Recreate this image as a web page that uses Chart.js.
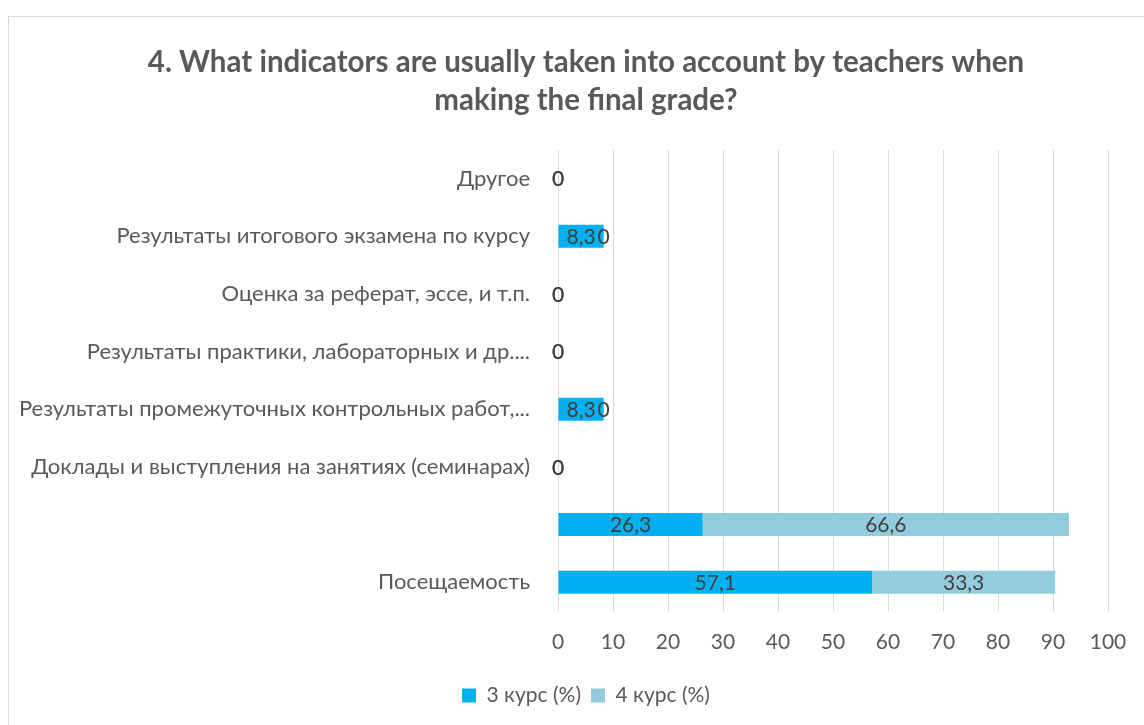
<!DOCTYPE html>
<html lang="ru">
<head>
    <meta charset="UTF-8">
    <title>4. What indicators are usually taken into account by teachers</title>
    <script src="https://cdn.jsdelivr.net/npm/chart.js@4.4.1/dist/chart.umd.min.js"></script>
    <style>
        html, body { margin: 0; padding: 0; background: #fff; overflow: hidden; }
        .frame { position: absolute; left: 8px; top: 16px; width: 1140px; height: 720px; border: 1px solid #d9d9d9; }
        #chart { position: absolute; left: 9px; top: 17px; }
    </style>
</head>
<body>
    <div class="frame"></div>
    <canvas id="chart" width="1154" height="708"></canvas>

    <script>
        // Data (top to bottom as in the picture)
        const categories = [
            'Другое',
            'Результаты итогового экзамена по курсу',
            'Оценка за реферат, эссе, и т.п.',
            'Результаты практики, лабораторных и др....',
            'Результаты промежуточных контрольных работ,...',
            'Доклады и выступления на занятиях (семинарах)',
            '',
            'Посещаемость'
        ];
        const course3 = [0, 8.3, 0, 0, 8.3, 0, 26.3, 57.1];
        const course4 = [0, 0, 0, 0, 0, 0, 66.6, 33.3];
        const xTicks = [0, 10, 20, 30, 40, 50, 60, 70, 80, 90, 100];

        const fontFamily = 'Lato, "Noto Sans", "DejaVu Sans", sans-serif';

        // value labels centred in each bar segment, comma decimal
        const barLabels = {
            id: 'barLabels',
            afterDatasetsDraw(chart) {
                const ctx = chart.ctx;
                ctx.save();
                ctx.font = '21px ' + fontFamily;
                ctx.fillStyle = '#404040';
                ctx.textAlign = 'center';
                ctx.textBaseline = 'middle';
                chart.data.datasets.forEach((ds, i) => {
                    const meta = chart.getDatasetMeta(i);
                    meta.data.forEach((bar, j) => {
                        const txt = String(ds.data[j]).replace('.', ',');
                        ctx.fillText(txt, (bar.x + bar.base) / 2, bar.y + 1);
                    });
                });
                ctx.restore();
            }
        };

        new Chart(document.getElementById('chart'), {
            type: 'bar',
            data: {
                labels: categories,
                datasets: [
                    { label: '3 курс (%)', data: course3, backgroundColor: '#00b0f0' },
                    { label: '4 курс (%)', data: course4, backgroundColor: '#93cddd' }
                ]
            },
            options: {
                indexAxis: 'y',
                responsive: false,
                animation: false,
                categoryPercentage: 0.4,
                barPercentage: 1,
                layout: { padding: { left: 0, right: 0, top: 0, bottom: 9 } },
                scales: {
                    x: {
                        stacked: true,
                        min: 0,
                        max: 100,
                        afterBuildTicks: s => { s.ticks = xTicks.map(v => ({ value: v })); },
                        afterFit: s => { s.height = 64; s.paddingRight = 55; },
                        grid: { color: '#d9d9d9', drawTicks: false },
                        border: { display: false },
                        ticks: { color: '#595959', padding: 19, font: { size: 21, family: fontFamily } }
                    },
                    y: {
                        stacked: true,
                        afterFit: s => { s.width = 549; },
                        grid: { display: false, drawTicks: false },
                        border: { display: false },
                        ticks: { color: '#595959', padding: 28, autoSkip: false, font: { size: 22, family: fontFamily } }
                    }
                },
                plugins: {
                    title: {
                        display: true,
                        text: ['4. What indicators are usually taken into account by teachers when', 'making the final grade?'],
                        color: '#595959',
                        font: { size: 29.5, weight: 'bold', family: fontFamily, lineHeight: 1.3 },
                        padding: { top: 26, bottom: 30 }
                    },
                    legend: {
                        position: 'bottom',
                        labels: {
                            color: '#595959',
                            boxWidth: 14,
                            boxHeight: 14,
                            padding: 10,
                            font: { size: 21, family: fontFamily }
                        }
                    },
                    tooltip: { enabled: false }
                }
            },
            plugins: [barLabels]
        });
    </script>
</body>
</html>
